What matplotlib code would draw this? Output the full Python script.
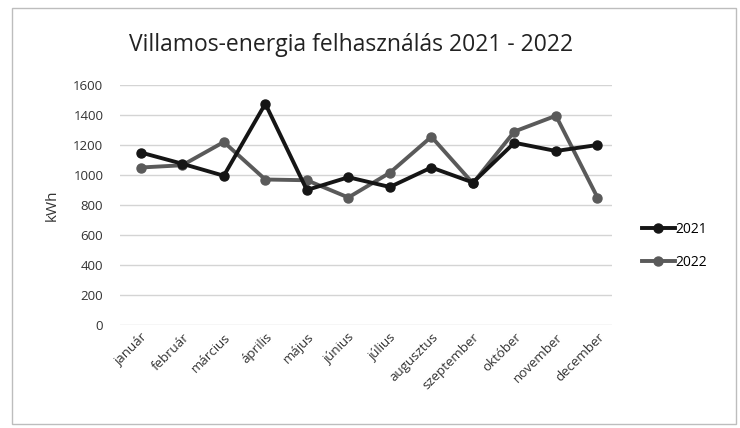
import matplotlib.pyplot as plt
from matplotlib.patches import Rectangle

plt.rcParams['font.family'] = ['Open Sans', 'DejaVu Sans']

honapok = ['január', 'február', 'március', 'április', 'május', 'június',
           'július', 'augusztus', 'szeptember', 'október', 'november', 'december']
fogy_2021 = [1150, 1075, 995, 1475, 900, 985, 920, 1050, 950, 1215, 1160, 1200]
fogy_2022 = [1050, 1065, 1220, 970, 965, 850, 1015, 1255, 945, 1290, 1395, 850]

fig = plt.figure(figsize=(7.4, 4.28), dpi=100)
ax = fig.add_axes([120 / 740, 1 - 325 / 428, (612 - 120) / 740, 240 / 428])

# keret a diagram körül
fig.patches.append(Rectangle((12 / 740, 4 / 428), 724 / 740, 416 / 428,
                             transform=fig.transFigure, fill=False,
                             edgecolor='#bdbdbd', linewidth=1))

x = range(len(honapok))
ax.plot(x, fogy_2021, color='#151515', lw=2.8, marker='o', ms=6.5, label='2021', zorder=3)
ax.plot(x, fogy_2022, color='#5a5a5a', lw=2.8, marker='o', ms=6.5, label='2022', zorder=2)

ax.set_ylim(0, 1600)
ax.set_yticks(range(0, 1601, 200))
ax.set_xlim(-0.5, 11.35)
ax.set_xticks(list(x))
ax.set_xticklabels(honapok, rotation=45, ha='right', rotation_mode='anchor',
                   fontsize=9.5, color='#333333')
ax.tick_params(axis='y', labelsize=9.5, labelcolor='#333333', length=0, pad=12)
ax.tick_params(axis='x', length=0, pad=4)
ax.grid(axis='y', color='#d4d4d4', lw=1)
ax.set_axisbelow(True)
for s in ax.spines.values():
    s.set_visible(False)

ax.set_ylabel('kWh', fontsize=11, color='#333333', labelpad=10)
fig.text(0.475, 1 - 45 / 428, 'Villamos-energia felhasználás 2021 - 2022',
         ha='center', va='center', fontsize=16.5, color='#222222')

ax.legend(loc='center left', bbox_to_anchor=(1.035, 0.33), frameon=False,
          fontsize=10, handlelength=2.4, labelspacing=1.3, handletextpad=0.05)

plt.savefig('out.png', dpi=100)
